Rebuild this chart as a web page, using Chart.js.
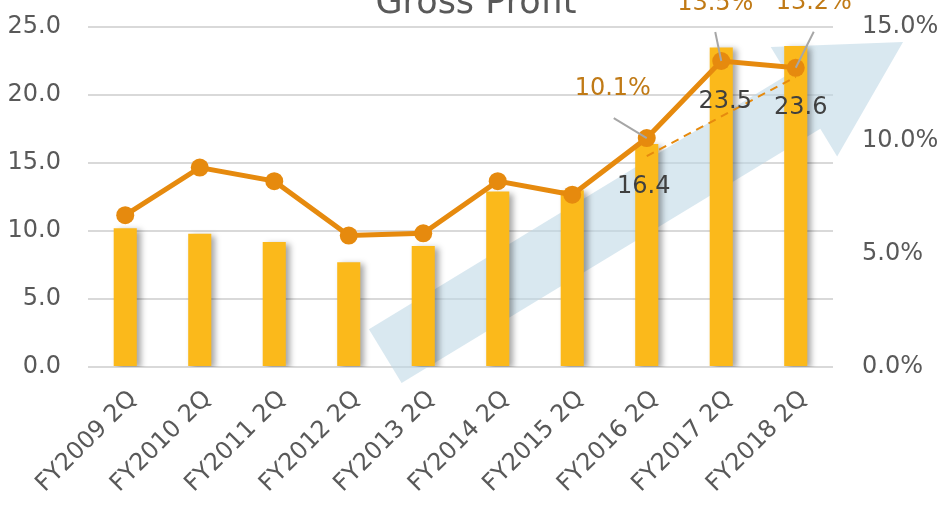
<!DOCTYPE html>
<html>
<head>
<meta charset="utf-8">
<script src="https://cdn.jsdelivr.net/npm/chart.js@4.4.1/dist/chart.umd.min.js"></script>
<style>
  body { margin: 0; background: #fff; }
  #wrap { width: 943px; height: 505px; }
</style>
</head>
<body>
<div id="wrap"><canvas id="gpChart"></canvas></div>
<script>
const periods = ['FY2009 2Q', 'FY2010 2Q', 'FY2011 2Q', 'FY2012 2Q', 'FY2013 2Q',
                 'FY2014 2Q', 'FY2015 2Q', 'FY2016 2Q', 'FY2017 2Q', 'FY2018 2Q'];
const grossProfit = [10.2, 9.8, 9.2, 7.7, 8.9, 12.9, 13.0, 16.4, 23.5, 23.6];   // left axis
const grossMargin = [6.7, 8.8, 8.2, 5.8, 5.9, 8.2, 7.6, 10.1, 13.5, 13.2];      // right axis, %
const marginTrend = [null, null, null, null, null, null, null, 9.3, null, 12.8];  // dashed helper
const leftTicks = [0, 5, 10, 15, 20, 25];
const rightTicks = [0, 5, 10, 15];
const labelled = [7, 8, 9]; // points that carry value labels

const FONT = "'DejaVu Sans', Verdana, sans-serif";
const GREY = '#595959';
const BAR = '#FBB91B';
const LINE = '#E68A0E';

// hand-placed label offsets (like the moved labels in the original)
const barLabelOff = { 7: [-3, 43], 8: [4, 54], 9: [5, 62] };
const pctLabelOff = { 7: [-34, -49], 8: [-6, -57], 9: [18, -65] };
const leaderOff = { 7: [-33, -20], 8: [-6, -29], 9: [18, -36] };

// big light-blue arrow behind the bars
const arrowPlugin = {
  id: 'arrow',
  beforeDatasetsDraw(chart) {
    const { ctx, scales } = chart;
    const x = scales.x, y = scales.y;
    const tail = [x.getPixelForValue(3.49), y.getPixelForValue(0.8)];
    const base = [x.getPixelForValue(9.11), y.getPixelForValue(19.5)];
    const tip = [x.getPixelForValue(10.44), y.getPixelForValue(23.9)];
    const dx = tip[0] - tail[0], dy = tip[1] - tail[1];
    const len = Math.hypot(dx, dy);
    const px = -dy / len, py = dx / len;
    const bw = 31.5, hw = 64;
    ctx.save();
    ctx.fillStyle = 'rgba(190, 216, 230, 0.58)';
    ctx.beginPath();
    ctx.moveTo(tail[0] + px * bw, tail[1] + py * bw);
    ctx.lineTo(base[0] + px * bw, base[1] + py * bw);
    ctx.lineTo(base[0] + px * hw, base[1] + py * hw);
    ctx.lineTo(tip[0], tip[1]);
    ctx.lineTo(base[0] - px * hw, base[1] - py * hw);
    ctx.lineTo(base[0] - px * bw, base[1] - py * bw);
    ctx.lineTo(tail[0] - px * bw, tail[1] - py * bw);
    ctx.closePath();
    ctx.fill();
    ctx.restore();
  }
};

// soft shadow on the bars
const shadowPlugin = {
  id: 'barShadow',
  beforeDatasetDraw(chart, args) {
    if (args.meta.type !== 'bar') return;
    const ctx = chart.ctx;
    ctx.save();
    ctx.shadowColor = 'rgba(0, 0, 0, 0.35)';
    ctx.shadowBlur = 6;
    ctx.shadowOffsetX = 4;
    ctx.shadowOffsetY = 2;
  },
  afterDatasetDraw(chart, args) {
    if (args.meta.type !== 'bar') return;
    chart.ctx.restore();
  }
};

// value labels, leader lines and the title
const labelPlugin = {
  id: 'labels',
  afterDatasetsDraw(chart) {
    const { ctx } = chart;
    const barMeta = chart.getDatasetMeta(0);
    const lineMeta = chart.getDatasetMeta(2);
    ctx.save();
    ctx.font = '24px ' + FONT;
    ctx.textAlign = 'center';
    ctx.textBaseline = 'middle';

    labelled.forEach(i => {
      const b = barMeta.data[i];
      const o = barLabelOff[i];
      ctx.fillStyle = '#404040';
      ctx.fillText(grossProfit[i].toFixed(1), b.x + o[0], b.y + o[1]);

      const p = lineMeta.data[i];
      const l = leaderOff[i];
      ctx.strokeStyle = '#A6A6A6';
      ctx.lineWidth = 2;
      ctx.beginPath();
      ctx.moveTo(p.x + l[0], p.y + l[1]);
      ctx.lineTo(p.x, p.y);
      ctx.stroke();

      const q = pctLabelOff[i];
      ctx.fillStyle = '#C07A16';
      ctx.fillText(grossMargin[i].toFixed(1) + '%', p.x + q[0], p.y + q[1]);
    });

    ctx.fillStyle = GREY;
    ctx.font = '35px ' + FONT;
    ctx.textBaseline = 'alphabetic';
    ctx.fillText('Gross Profit', 476, 13);
    ctx.restore();
  }
};

// keep the vertical axes from padding the plot area
function fixWidth(w) {
  return s => { s.width = w; s.paddingTop = 0; s.paddingBottom = 0; };
}

new Chart(document.getElementById('gpChart'), {
  data: {
    labels: periods,
    datasets: [
      {
        type: 'bar',
        label: 'Gross Profit',
        data: grossProfit,
        backgroundColor: BAR,
        barPercentage: 0.62,
        categoryPercentage: 0.5,
        yAxisID: 'y',
        order: 3
      },
      {
        type: 'line',
        label: 'trend',
        data: marginTrend,
        borderColor: LINE,
        borderWidth: 2,
        borderDash: [8, 6],
        pointRadius: 0,
        spanGaps: true,
        yAxisID: 'y1',
        order: 2
      },
      {
        type: 'line',
        label: 'Gross Margin',
        data: grossMargin,
        borderColor: LINE,
        backgroundColor: LINE,
        borderWidth: 5,
        pointRadius: 9,
        pointBackgroundColor: LINE,
        pointBorderWidth: 0,
        tension: 0,
        yAxisID: 'y1',
        order: 1
      }
    ]
  },
  options: {
    responsive: true,
    maintainAspectRatio: false,
    animation: false,
    devicePixelRatio: 1,
    layout: { padding: { top: 27, left: 0, right: 0, bottom: 0 } },
    plugins: {
      legend: { display: false },
      tooltip: { enabled: false },
      title: { display: false }
    },
    scales: {
      x: {
        grid: { display: false, drawTicks: false },
        border: { display: false },
        ticks: {
          color: GREY,
          font: { family: FONT, size: 24 },
          maxRotation: 45,
          minRotation: 45,
          autoSkip: false,
          padding: 18,
          labelOffset: 8
        },
        afterFit(s) { s.height = 138; }
      },
      y: {
        position: 'left',
        min: 0,
        max: 25,
        afterBuildTicks(s) { s.ticks = leftTicks.map(v => ({ value: v })); },
        grid: { color: '#D9D9D9', lineWidth: 2, drawTicks: false },
        border: { display: false },
        ticks: {
          color: GREY,
          font: { family: FONT, size: 24 },
          padding: 27,
          callback: v => v.toFixed(1)
        },
        afterFit: fixWidth(88)
      },
      y1: {
        position: 'right',
        min: 0,
        max: 15,
        afterBuildTicks(s) { s.ticks = rightTicks.map(v => ({ value: v })); },
        grid: { display: false, drawTicks: false },
        border: { display: false },
        ticks: {
          color: GREY,
          font: { family: FONT, size: 24 },
          padding: 29,
          callback: v => v.toFixed(1) + '%'
        },
        afterFit: fixWidth(110)
      }
    }
  },
  plugins: [arrowPlugin, shadowPlugin, labelPlugin]
});
</script>
</body>
</html>
